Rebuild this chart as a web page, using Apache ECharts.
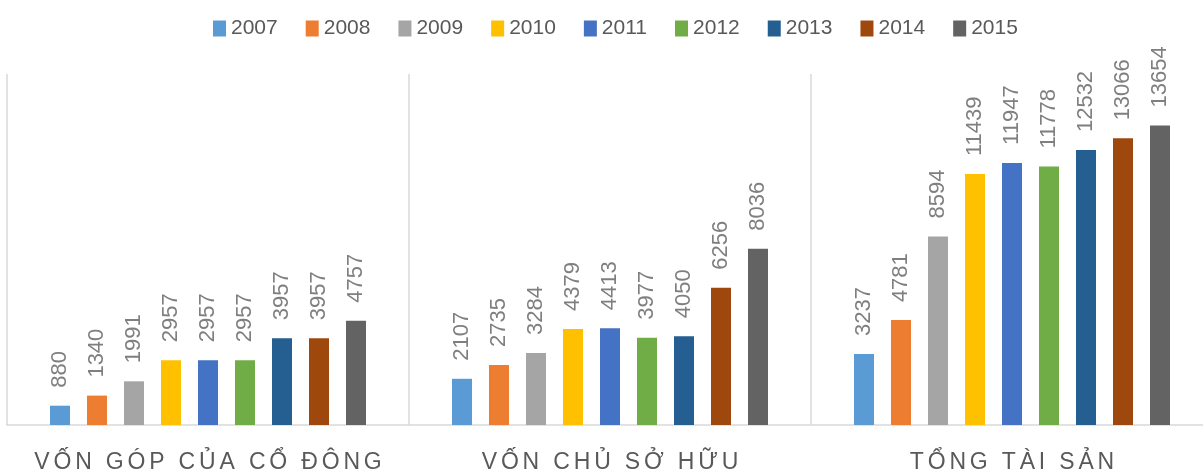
<!DOCTYPE html>
<html>
<head>
<meta charset="utf-8">
<script src="https://cdn.jsdelivr.net/npm/echarts@6/dist/echarts.min.js"></script>
<style>
  html, body { margin: 0; padding: 0; background: #fff; }
  #chart { width: 1203px; height: 469px; }
</style>
</head>
<body>
<div id="chart"></div>
<script>
/* du lieu */
var categories = ['VỐN GÓP CỦA CỔ ĐÔNG', 'VỐN CHỦ SỞ HỮU', 'TỔNG TÀI SẢN'];
var years = ['2007', '2008', '2009', '2010', '2011', '2012', '2013', '2014', '2015'];
var vonGop = [880, 1340, 1991, 2957, 2957, 2957, 3957, 3957, 4757];
var vonChuSoHuu = [2107, 2735, 3284, 4379, 4413, 3977, 4050, 6256, 8036];
var tongTaiSan = [3237, 4781, 8594, 11439, 11947, 11778, 12532, 13066, 13654];
var colors = ['#5B9BD5', '#ED7D31', '#A5A5A5', '#FFC000', '#4472C4', '#70AD47', '#255E91', '#9E480E', '#636363'];

// gian chu cho nhan truc x
function spaced(s) {
	return Array.from(s).join('\u2006');
}

var series = [];
for (var i = 0; i < years.length; i++) {
	series.push({
		name: years[i],
		type: 'bar',
		barWidth: 20,
		barGap: '85%',
		itemStyle: { color: colors[i] },
		label: {
			show: true,
			position: 'top',
			distance: 18,
			rotate: 90,
			align: 'left',
			verticalAlign: 'middle',
			fontSize: 22,
			fontFamily: 'Liberation Sans',
			color: '#7f7f7f'
		},
		data: [vonGop[i], vonChuSoHuu[i], tongTaiSan[i]]
	});
}

var myChart = echarts.init(document.getElementById('chart'));
var option = {
	animation: false,
	legend: {
		data: years,
		left: 208,
		top: 13,
		itemWidth: 13,
		itemHeight: 16,
		itemGap: 28,
		icon: 'rect',
		textStyle: {
			fontSize: 21,
			fontFamily: 'Liberation Sans',
			color: '#595959'
		}
	},
	grid: {
		left: 7,
		width: 1206,
		top: 74,
		bottom: 44,
		outerBoundsMode: 'none',
		containLabel: false
	},
	xAxis: {
		type: 'category',
		data: categories,
		axisTick: { show: false },
		axisLine: { lineStyle: { color: '#d9d9d9', width: 1.5 } },
		splitLine: { show: true, lineStyle: { color: '#d9d9d9', width: 1.5 } },
		axisLabel: {
			interval: 0,
			margin: 26,
			fontSize: 23,
			fontFamily: 'Liberation Sans',
			color: '#595959',
			formatter: function (v) { return spaced(v); }
		}
	},
	yAxis: {
		type: 'value',
		min: 0,
		max: 16000,
		show: false
	},
	series: series
};
myChart.setOption(option);
</script>
</body>
</html>
